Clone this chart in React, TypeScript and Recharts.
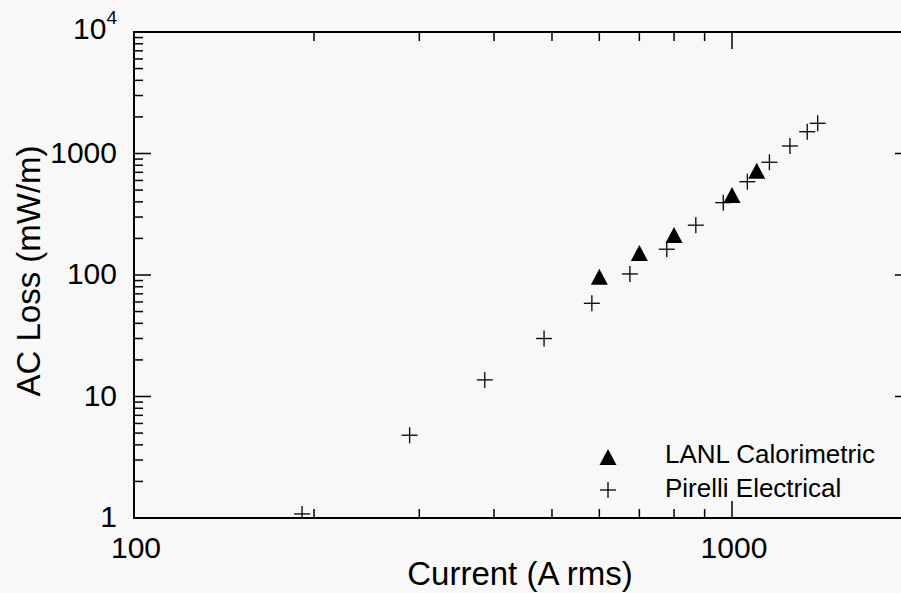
import React from "react"
import { ScatterChart, Scatter, XAxis, YAxis, Legend, Label } from "recharts"

// LANL calorimetric measurements
const lanlCurrent = [600, 700, 800, 1000, 1100]
const lanlLoss = [95, 149, 209, 447, 708]

// Pirelli electrical measurements
const pirelliCurrent = [191, 289, 386, 485, 583, 675, 778, 870, 967, 1061, 1155, 1250, 1336, 1391]
const pirelliLoss = [1.08, 4.8, 13.7, 30, 58.5, 102, 163, 257, 394, 586, 847, 1153, 1511, 1773]

const xTicks = [100, 200, 300, 400, 500, 600, 700, 800, 900, 1000, 2000]
const xLabels = [100, 1000]
const yTicks = [
  1, 2, 3, 4, 5, 6, 7, 8, 9,
  10, 20, 30, 40, 50, 60, 70, 80, 90,
  100, 200, 300, 400, 500, 600, 700, 800, 900,
  1000, 2000, 3000, 4000, 5000, 6000, 7000, 8000, 9000,
  10000,
]
const yLabels = [1, 10, 100, 1000, 10000]

const lanlData = lanlCurrent.map((x, i) => ({ x, y: lanlLoss[i] }))
const pirelliData = pirelliCurrent.map((x, i) => ({ x, y: pirelliLoss[i] }))

const FONT = "'Liberation Sans', Arial, Helvetica, sans-serif"
const W = 901
const H = 593
const LEFT = 134
const RIGHT = 912 // the scanned figure is cut before its right frame
const TOP = 32
const BOTTOM = 518
const MAJOR = 17
const MINOR = 9

const isMajor = (v: number) => Math.abs(Math.log10(v) - Math.round(Math.log10(v))) < 1e-6

function XTick(props: any) {
  const x = props.payload.coordinate
  const v = props.payload.value
  const len = isMajor(v) ? MAJOR : MINOR
  return (
    <g>
      {v === 100 && (
        <g stroke="#000" strokeWidth={2}>
          <line x1={LEFT} x2={RIGHT} y1={TOP} y2={TOP} />
          <line x1={LEFT} x2={RIGHT} y1={BOTTOM} y2={BOTTOM} />
          <line x1={LEFT} x2={LEFT} y1={TOP - 1} y2={BOTTOM + 1} />
        </g>
      )}
      <line x1={x} x2={x} y1={BOTTOM} y2={BOTTOM - len} stroke="#000" strokeWidth={1.5} />
      <line x1={x} x2={x} y1={TOP} y2={TOP + len} stroke="#000" strokeWidth={1.5} />
      {xLabels.includes(v) && (
        <text x={x + 2} y={BOTTOM + 40} textAnchor="middle" fontSize={30} fontFamily={FONT} fill="#000">
          {v}
        </text>
      )}
    </g>
  )
}

function YTick(props: any) {
  const y = props.payload.coordinate
  const v = props.payload.value
  const len = isMajor(v) ? MAJOR : MINOR
  return (
    <g>
      <line x1={LEFT} x2={LEFT + len} y1={y} y2={y} stroke="#000" strokeWidth={1.5} />
      <line x1={RIGHT} x2={RIGHT - len} y1={y} y2={y} stroke="#000" strokeWidth={1.5} />
      {yLabels.includes(v) &&
        (v === 10000 ? (
          <text x={LEFT - 17} y={y + 7} textAnchor="end" fontSize={30} fontFamily={FONT} fill="#000">
            10
            <tspan fontSize={19} dy={-15}>4</tspan>
          </text>
        ) : (
          <text x={LEFT - 17} y={y + 9} textAnchor="end" fontSize={30} fontFamily={FONT} fill="#000">
            {v}
          </text>
        ))}
    </g>
  )
}

const Triangle = (props: any) => {
  const { cx, cy } = props
  return <polygon points={`${cx},${cy - 9} ${cx - 8.5},${cy + 7} ${cx + 8.5},${cy + 7}`} fill="#000" />
}

const Cross = (props: any) => {
  const { cx, cy } = props
  return (
    <g stroke="#000" strokeWidth={1.3}>
      <line x1={cx - 8} x2={cx + 8} y1={cy} y2={cy} />
      <line x1={cx} x2={cx} y1={cy - 8} y2={cy + 8} />
    </g>
  )
}

const LegendBox = () => (
  <svg width={300} height={75}>
    <Triangle cx={10} cy={22} />
    <text x={67} y={27} fontSize={26} fontFamily={FONT} fill="#000">LANL Calorimetric</text>
    <Cross cx={10} cy={54} />
    <text x={67} y={61} fontSize={26} fontFamily={FONT} fill="#000">Pirelli Electrical</text>
  </svg>
)

export default function App() {
  return (
    <div
      style={{
        position: "fixed",
        left: 0,
        top: 0,
        width: W,
        height: H,
        overflow: "hidden",
        background: "#f8f8f8",
      }}
    >
      <ScatterChart width={W} height={H} margin={{ top: TOP, right: W - RIGHT, bottom: 0, left: 0 }}>
        <XAxis
          dataKey="x"
          type="number"
          scale="log"
          domain={[100, 2000]}
          ticks={xTicks}
          allowDataOverflow
          height={H - BOTTOM}
          axisLine={false}
          tickLine={false}
          tickSize={0}
          tickMargin={0}
          tick={<XTick />}
          interval={0}
        >
          <Label
            content={() => (
              <text x={520} y={585} textAnchor="middle" fontSize={33} fontFamily={FONT} fill="#000">
                Current (A rms)
              </text>
            )}
          />
        </XAxis>
        <YAxis
          dataKey="y"
          type="number"
          scale="log"
          domain={[1, 10000]}
          ticks={yTicks}
          allowDataOverflow
          width={LEFT}
          axisLine={false}
          tickLine={false}
          tickSize={0}
          tickMargin={0}
          tick={<YTick />}
          interval={0}
        >
          <Label
            content={() => (
              <text
                x={28}
                y={271}
                textAnchor="middle"
                fontSize={33}
                fontFamily={FONT}
                fill="#000"
                transform="rotate(-90 28 271)"
                dominantBaseline="central"
              >
                AC Loss (mW/m)
              </text>
            )}
          />
        </YAxis>
        <Legend
          layout="vertical"
          align="center"
          verticalAlign="middle"
          content={<LegendBox />}
          wrapperStyle={{ left: 598, top: 436, width: 300, height: 75 }}
        />
        <Scatter name="LANL Calorimetric" data={lanlData} shape={<Triangle />} isAnimationActive={false} />
        <Scatter name="Pirelli Electrical" data={pirelliData} shape={<Cross />} isAnimationActive={false} />
      </ScatterChart>
    </div>
  )
}
